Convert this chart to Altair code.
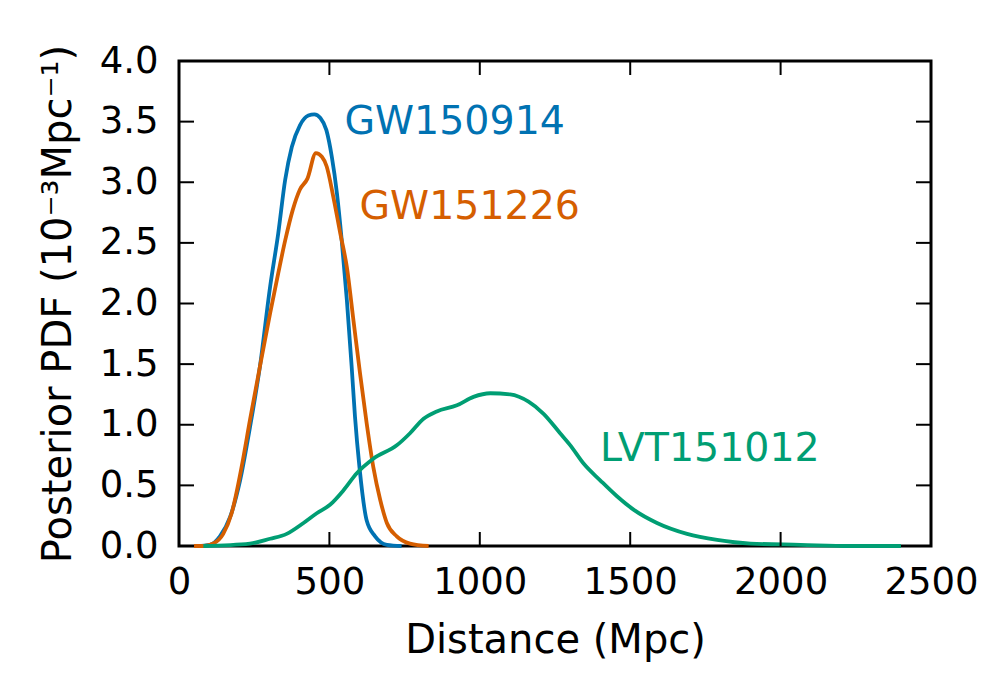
import altair as alt
import pandas as pd

# ---- data ----
gw150914_x = [60, 103, 136, 170, 203, 236, 269, 303, 330, 353, 375, 402, 430, 450, 470, 490,
              508, 525, 541, 558, 574, 585, 600, 624, 652, 691, 740]
gw150914_y = [0, 0.01, 0.08, 0.24, 0.54, 0.98, 1.48, 2.14, 2.58, 3.02, 3.29, 3.47, 3.55,
              3.56, 3.53, 3.43, 3.21, 2.91, 2.52, 2.03, 1.48, 1.07, 0.65, 0.21, 0.08, 0.01, 0]

gw151226_x = [50, 80, 114, 147, 175, 208, 236, 269, 303, 330, 353, 378, 402, 427, 455, 475,
              491, 513, 536, 558, 580, 602, 624, 646, 669, 691, 724, 768, 830]
gw151226_y = [0, 0, 0.02, 0.10, 0.27, 0.65, 1.04, 1.48, 1.92, 2.25, 2.52, 2.77, 2.94, 3.03,
              3.24, 3.21, 3.13, 2.88, 2.58, 2.30, 1.86, 1.42, 1.01, 0.65, 0.38, 0.19, 0.08,
              0.02, 0]

lvt151012_x = [81, 236, 303, 358, 414, 458, 502, 547, 591, 646, 724, 768, 813, 857, 924, 979,
               1035, 1101, 1162, 1212, 1267, 1301, 1345, 1401, 1456, 1511, 1589, 1689, 1789,
               1900, 2066, 2230, 2400]
lvt151012_y = [0, 0.02, 0.06, 0.10, 0.19, 0.27, 0.34, 0.46, 0.60, 0.72, 0.83, 0.93, 1.05,
               1.11, 1.16, 1.23, 1.26, 1.25, 1.19, 1.09, 0.93, 0.83, 0.68, 0.54, 0.41, 0.30,
               0.19, 0.10, 0.05, 0.02, 0.01, 0, 0]

events = ["GW150914", "GW151226", "LVT151012"]
colors = ["#0072B2", "#D55E00", "#009E73"]
label_x = [550, 600, 1400]
label_y = [3.4, 2.7, 0.7]

x_ticks = [0, 500, 1000, 1500, 2000, 2500]
y_ticks = [0.0, 0.5, 1.0, 1.5, 2.0, 2.5, 3.0, 3.5, 4.0]

# ---- tables ----
rows = []
for name, xs, ys in [(events[0], gw150914_x, gw150914_y),
                     (events[1], gw151226_x, gw151226_y),
                     (events[2], lvt151012_x, lvt151012_y)]:
    for a, b in zip(xs, ys):
        rows.append({"dist": a, "pdf": b, "event": name})
curves = pd.DataFrame(rows)
labels = pd.DataFrame({"dist": label_x, "pdf": label_y, "event": events})
xt = pd.DataFrame({"dist": x_ticks})
yt = pd.DataFrame({"pdf": y_ticks})

W, H = 752, 485
FONT = "DejaVu Sans"

xscale = alt.Scale(domain=[0, 2500], nice=False, zero=False)
yscale = alt.Scale(domain=[0, 4], nice=False, zero=False)
cscale = alt.Scale(domain=events, range=colors)

x_axis = alt.Axis(values=x_ticks, format="d", grid=False, domain=False, ticks=False,
                  tickSize=0, labelFontSize=37, labelFont=FONT, labelColor="black",
                  labelPadding=47, labelBaseline="alphabetic", labelFlush=False,
                  title="Distance (Mpc)", titleFont=FONT, titleFontSize=40,
                  titleFontWeight="normal", titleColor="black",
                  titleBaseline="alphabetic", titleY=106)
y_axis = alt.Axis(values=y_ticks, format=".1f", grid=False, domain=False, ticks=False,
                  tickSize=0, labelFontSize=37, labelFont=FONT, labelColor="black",
                  labelPadding=21, labelFlush=False,
                  title="Posterior PDF (10⁻³Mpc⁻¹)", titleFont=FONT, titleFontSize=40,
                  titleFontWeight="normal", titleColor="black",
                  titleBaseline="alphabetic", titleX=-109, titleY=H / 2, titleAngle=270,
                  titleAlign="center")

X = alt.X("dist:Q", scale=xscale, axis=x_axis, title="Distance (Mpc)")
Y = alt.Y("pdf:Q", scale=yscale, axis=y_axis, title="Posterior PDF (10⁻³Mpc⁻¹)")
C = alt.Color("event:N", scale=cscale, legend=None)

lines = alt.Chart(curves).mark_line(strokeWidth=3.8, interpolate="monotone").encode(
    x=X, y=Y, color=C, detail="event:N",
)

texts = alt.Chart(labels).mark_text(align="left", baseline="alphabetic",
                                     font=FONT, fontSize=39.5).encode(
    x=X, y=Y, color=C, text="event:N",
)

TL = 14
tick_style = dict(color="black", strokeWidth=2)
xt_bottom = alt.Chart(xt).mark_rule(**tick_style).encode(
    x=X, y=alt.value(H), y2=alt.value(H - TL))
xt_top = alt.Chart(xt).mark_rule(**tick_style).encode(
    x=X, y=alt.value(0), y2=alt.value(TL))
yt_left = alt.Chart(yt).mark_rule(**tick_style).encode(
    y=Y, x=alt.value(0), x2=alt.value(TL + 1))
yt_right = alt.Chart(yt).mark_rule(**tick_style).encode(
    y=Y, x=alt.value(W), x2=alt.value(W - TL - 1))

chart = alt.layer(lines, texts, xt_bottom, xt_top, yt_left, yt_right).properties(
    width=W, height=H,
    autosize=alt.AutoSizeParams(type="none"),
    padding={"left": 179, "top": 61, "right": 64, "bottom": 132},
    background="white",
).configure_view(
    stroke="black", strokeWidth=3, fill="white"
)

chart.save("out.html", embed_options={"renderer": "svg", "actions": False})
